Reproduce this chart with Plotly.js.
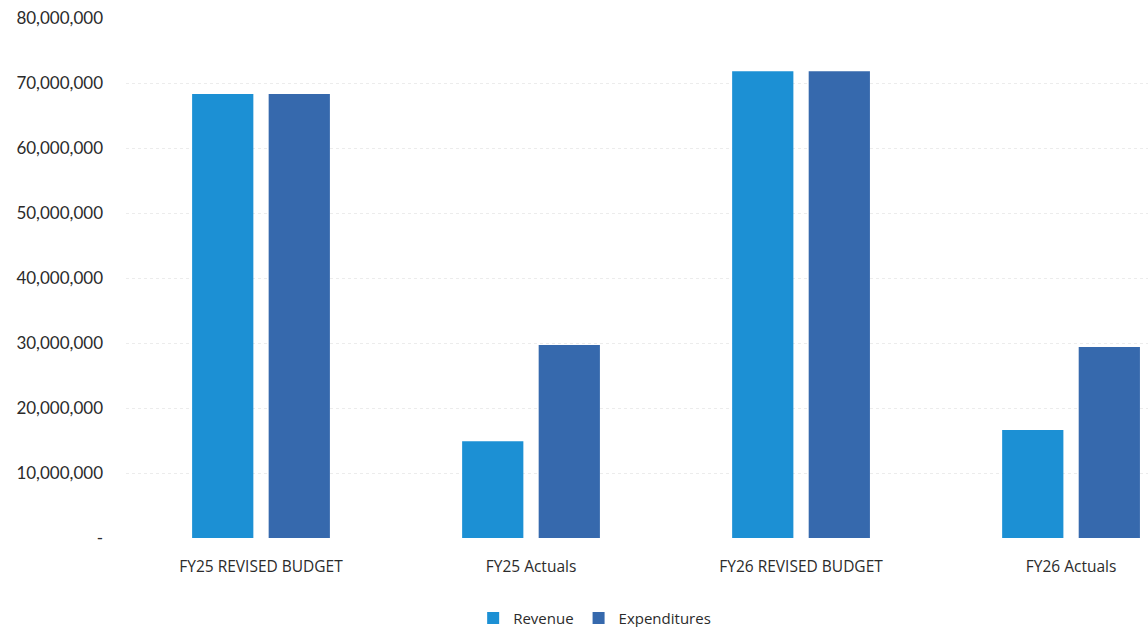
<!DOCTYPE html>
<html>
<head>
<meta charset="utf-8">
<script src="https://cdn.plot.ly/plotly-3.0.1.min.js"></script>
<style>html,body{margin:0;padding:0;background:#fff;}#chart{width:1148px;height:627px;}</style>
</head>
<body>
<div id="chart"></div>
<script>
const categories = ["FY25 REVISED BUDGET", "FY25 Actuals", "FY26 REVISED BUDGET", "FY26 Actuals"];
const revenue = [68300000, 14900000, 71800000, 16600000];
const expenditures = [68300000, 29700000, 71800000, 29400000];
const yTickVals = [0, 10000000, 20000000, 30000000, 40000000, 50000000, 60000000, 70000000, 80000000];
const yTickText = ["-", "10,000,000", "20,000,000", "30,000,000", "40,000,000", "50,000,000", "60,000,000", "70,000,000", "80,000,000"];

const traces = [
  {type: "bar", name: "Revenue", x: categories, y: revenue, marker: {color: "#1c90d4"}, hoverinfo: "skip"},
  {type: "bar", name: "Expenditures", x: categories, y: expenditures, marker: {color: "#3669ad"}, hoverinfo: "skip"}
];

const layout = {
  width: 1148, height: 627,
  margin: {l: 126, r: 0, t: 18, b: 89},
  paper_bgcolor: "#ffffff", plot_bgcolor: "#ffffff",
  barmode: "group", bargap: 0.433, bargroupgap: 0.2,
  font: {family: "Lato, 'Open Sans', sans-serif", color: "#2b2b2b"},
  xaxis: {
    type: "category", range: [-0.5, 3.285],
    showgrid: false, zeroline: false, showline: false, ticks: "",
    tickfont: {family: "'Open Sans', 'Noto Sans', sans-serif", size: 15.5, color: "#2b2b2b"},
    ticklabelstandoff: 17
  },
  yaxis: {
    range: [0, 80000000], tickvals: yTickVals, ticktext: yTickText,
    showgrid: true, gridcolor: "#ececec", griddash: "dot", gridwidth: 1,
    zeroline: false, showline: false, ticks: "",
    tickfont: {family: "Lato, 'Open Sans', sans-serif", size: 17, color: "#2b2b2b"},
    ticklabelstandoff: 22
  },
  showlegend: true,
  legend: {
    orientation: "h", xref: "container", yref: "container",
    x: 0.518, xanchor: "center", y: 0.014, yanchor: "middle",
    font: {family: "'Open Sans', 'Noto Sans', sans-serif", size: 15, color: "#2b2b2b"},
    itemwidth: 30, traceorder: "normal"
  }
};

Plotly.newPlot("chart", traces, layout, {displayModeBar: false, staticPlot: true});
</script>
</body>
</html>
